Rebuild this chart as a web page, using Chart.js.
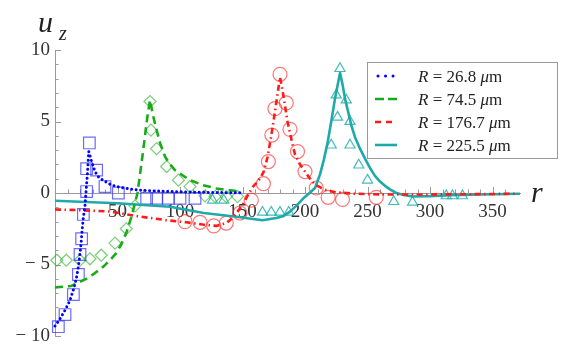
<!DOCTYPE html>
<html><head><meta charset="utf-8">
<script src="https://cdn.jsdelivr.net/npm/chart.js@4.4.1/dist/chart.umd.min.js"></script>
<style>html,body{margin:0;padding:0;background:#fff;}#c{display:block;}</style>
</head><body>
<canvas id="c" width="576" height="360"></canvas>
<script>
// ---- tick labels ----
const xTickLabels = [50, 100, 150, 200, 250, 300, 350];
const yTickLabels = [-10, -5, 0, 5, 10];
// ---- legend ----
const seriesRadii = ['26.8', '74.5', '176.7', '225.5'];

// ---- theory curves (r, u_z) ----
const blueCurveR = [0, 4, 8, 12, 15, 17, 18.7, 19.5, 20.8, 21.5, 22.7, 24, 25, 26, 27, 28, 29.3, 32, 35, 38.4, 45, 52, 60, 68, 76, 86, 97, 110, 125, 140, 150];
const blueCurveU = [-9.3, -8.8, -8.2, -7.5, -6.7, -6.0, -5.15, -4.6, -3.6, -2.8, -1.7, -0.9, 0.3, 1.4, 2.9, 2.6, 2.2, 1.5, 1.1, 0.9, 0.56, 0.4, 0.28, 0.2, 0.16, 0.12, 0.09, 0.06, 0.04, 0.02, 0.01];

const greenCurveR = [0, 13, 25, 32, 38.7, 44, 49, 53, 57, 61, 64, 66, 68, 70, 72, 74, 76, 78, 80, 84, 88, 92, 96, 100, 108, 118, 129, 140, 149];
const greenCurveU = [-6.6, -6.5, -6.0, -5.6, -5.15, -4.7, -4.2, -3.6, -2.8, -1.7, -0.7, 0.0, 1.3, 2.6, 4.0, 5.4, 6.5, 5.6, 4.85, 3.5, 2.55, 2.0, 1.6, 1.35, 0.9, 0.56, 0.32, 0.19, 0.1];

const redCurveR = [0, 20, 44, 68, 89, 105, 118, 129, 137, 142, 146, 150, 154, 158, 162, 164, 167, 170, 173, 176, 178.5, 180, 182, 184, 186, 188, 190, 192, 196, 200, 204, 208, 213, 217, 225, 240, 260, 300, 340, 370];
const redCurveU = [-1.15, -1.2, -1.3, -1.65, -1.9, -2.05, -2.2, -2.3, -2.1, -1.75, -1.3, -0.85, -0.2, 0.4, 0.8, 1.0, 1.5, 2.5, 4.0, 5.7, 7.2, 8.1, 7.2, 6.1, 5.0, 4.2, 3.4, 2.7, 2.0, 1.5, 1.0, 0.6, 0.35, 0.2, 0.05, -0.05, -0.1, -0.1, -0.08, -0.05];

const cyanCurveR = [0, 50, 92, 119, 145, 166, 177, 183, 188, 193, 198.7, 203, 208, 212, 215, 218, 221, 224, 226, 228, 230, 232, 235, 237, 240, 244, 248, 252, 256, 260, 264, 268, 273, 280, 286, 300, 316, 340, 372];
const cyanCurveU = [-0.54, -0.72, -0.96, -1.4, -1.66, -1.9, -1.75, -1.6, -1.3, -0.9, -0.37, -0.05, 0.35, 1.3, 2.3, 3.5, 5.0, 6.6, 7.5, 8.4, 7.6, 6.6, 5.5, 4.75, 3.9, 3.1, 2.4, 1.75, 1.2, 0.8, 0.5, 0.25, 0.0, -0.15, -0.25, -0.22, -0.15, -0.1, -0.05];

// ---- measured points (r, u_z) ----
const blueDataR = [2.7, 8, 14.7, 18.7, 20, 21.3, 22.7, 25.3, 25.3, 27.5, 33.3, 40, 50.7, 73.3, 81.3, 90.7, 100, 112];
const blueDataU = [-9.35, -8.5, -7.1, -5.7, -4.3, -3.2, -1.5, 0.1, 1.7, 3.5, 1.6, 0.45, 0.0, -0.37, -0.37, -0.37, -0.37, -0.37];

const greenDataR = [1.5, 9, 20, 28, 37, 48, 57, 64, 76, 76.8, 81.3, 89.3, 98.7, 108, 120, 128, 137, 146];
const greenDataU = [-4.7, -4.7, -4.7, -4.6, -4.35, -3.5, -2.5, -0.9, 6.4, 4.4, 3.1, 1.85, 0.9, 0.45, -0.2, -0.25, -0.25, -0.25];

const redDataR = [104, 116, 127, 137, 148, 157, 166.7, 170.7, 173.5, 176, 180, 185, 188, 194, 200, 209, 218.5, 230, 257];
const redDataU = [-2.0, -2.05, -2.3, -2.1, -1.4, -0.5, 0.65, 2.2, 4.05, 5.9, 8.3, 6.3, 4.45, 2.9, 1.5, 0.35, -0.3, -0.45, -0.3];

const cyanDataR = [126, 135, 166, 173, 180, 187, 221, 225, 226, 228, 233, 236, 236, 243, 250, 271, 286, 313, 318, 326];
const cyanDataU = [-0.5, -0.5, -1.35, -1.35, -1.35, -1.35, 3.35, 6.85, 5.3, 8.7, 6.5, 5.0, 3.35, 1.95, 0.9, -0.6, -0.65, -0.2, -0.2, -0.2];

const zip = (xs, ys) => xs.map((x, i) => ({x: x, y: ys[i]}));

const COLORS = {
  blue: '#0000ff', green: '#1aaa1a', red: '#ff1a1a', cyan: '#1fa9a9',
  blueM: 'rgba(50,50,255,0.72)', greenM: 'rgba(50,180,50,0.65)', redM: 'rgba(255,50,50,0.68)', cyanM: 'rgba(20,170,170,0.8)'
};
const lineStyles = [
  {color: COLORS.blue, width: 3, dash: [0.01, 4.5], cap: 'round'},
  {color: COLORS.green, width: 2.6, dash: [8, 5], cap: 'butt'},
  {color: COLORS.red, width: 2.6, dash: [6, 3.5, 1.5, 3.5], cap: 'butt'},
  {color: COLORS.cyan, width: 2.6, dash: [], cap: 'butt'}
];
const curves = [[blueCurveR, blueCurveU], [greenCurveR, greenCurveU], [redCurveR, redCurveU], [cyanCurveR, cyanCurveU]];

const datasets = [];
curves.forEach((c, i) => {
  const s = lineStyles[i];
  datasets.push({
    data: zip(c[0], c[1]), showLine: true, pointRadius: 0, borderColor: s.color,
    borderWidth: s.width, borderDash: s.dash, borderCapStyle: s.cap, borderJoinStyle: 'round',
    tension: 0, order: 0, clip: false, fill: false
  });
});
const markerSets = [
  [blueDataR, blueDataU, 'rect', 8.2, COLORS.blueM],
  [greenDataR, greenDataU, 'rectRot', 6, COLORS.greenM],
  [redDataR, redDataU, 'circle', 7, COLORS.redM],
  [cyanDataR, cyanDataU, 'triangle', 5.8, COLORS.cyanM]
];
markerSets.forEach(m => {
  datasets.push({
    data: zip(m[0], m[1]), showLine: false, pointStyle: m[2], pointRadius: m[3],
    pointBorderColor: m[4], pointBackgroundColor: 'rgba(0,0,0,0)', pointBorderWidth: 1.2,
    order: 1, clip: false
  });
});

const TICK_FONT = {family: 'Liberation Serif', size: 19};
const AXIS_COLOR = '#9a9a9a';

const axisTicks = {
  id: 'axisTicks',
  beforeDatasetsDraw(chart) {
    const {ctx, scales: {x, y}} = chart;
    const y0 = y.getPixelForValue(0);
    ctx.save();
    ctx.strokeStyle = AXIS_COLOR; ctx.lineWidth = 1;
    x.ticks.forEach(t => {
      const v = t.value;
      if (v === 0 || Math.abs(v % 10) > 1e-6) return;
      const px = Math.round(x.getPixelForValue(v)) + 0.5;
      const len = (v % 50 === 0) ? 6 : 3.5;
      ctx.beginPath(); ctx.moveTo(px, y0); ctx.lineTo(px, y0 - len); ctx.stroke();
    });
    y.ticks.forEach(t => {
      const v = t.value;
      if (Math.abs(v % 1) > 1e-6) return;
      const py = Math.round(y.getPixelForValue(v)) + 0.5;
      const len = (v % 5 === 0) ? 6 : 3.5;
      ctx.beginPath(); ctx.moveTo(x.left, py); ctx.lineTo(x.left + len, py); ctx.stroke();
    });
    ctx.restore();
  }
};

function drawRuns(ctx, runs, x, y) {
  runs.forEach(r => {
    ctx.font = r.font;
    ctx.fillText(r.t, x, y);
    x += ctx.measureText(r.t).width;
  });
}

const labelsAndLegend = {
  id: 'labelsAndLegend',
  afterDraw(chart) {
    const {ctx} = chart;
    ctx.save();
    ctx.fillStyle = '#222';
    ctx.textBaseline = 'alphabetic';
    ctx.textAlign = 'left';
    // axis titles
    ctx.font = 'italic 30px "Liberation Serif"';
    ctx.fillText('u', 38, 32);
    ctx.font = 'italic 20px "Liberation Serif"';
    ctx.fillText('z', 59, 40);
    ctx.font = 'italic 30px "Liberation Serif"';
    ctx.fillText('r', 531, 202);
    // legend box
    const bx = 367.5, by = 62.5, bw = 190, bh = 96;
    ctx.fillStyle = '#fff';
    ctx.fillRect(bx, by, bw, bh);
    ctx.strokeStyle = '#999'; ctx.lineWidth = 1;
    ctx.strokeRect(bx, by, bw, bh);
    const rowsY = [76, 99, 122, 145];
    const legendDash = [[0.01, 7.5], [9, 4], [6, 5], []];
    const legendStart = [378, 375, 375, 375];
    lineStyles.forEach((s, i) => {
      ctx.save();
      ctx.strokeStyle = s.color; ctx.lineWidth = s.width;
      ctx.setLineDash(legendDash[i]); ctx.lineCap = s.cap;
      ctx.beginPath(); ctx.moveTo(legendStart[i], rowsY[i]); ctx.lineTo(397, rowsY[i]); ctx.stroke();
      ctx.restore();
      ctx.fillStyle = '#222';
      const base = rowsY[i] + 6;
      drawRuns(ctx, [
        {t: 'R', font: 'italic 17px "Liberation Serif"'},
        {t: ' = ' + seriesRadii[i] + ' ', font: '17px "Liberation Serif"'},
        {t: '\u03bc', font: 'italic 17px "Liberation Serif"'},
        {t: 'm', font: '17px "Liberation Serif"'}
      ], 418, base);
    });
    ctx.restore();
  }
};

new Chart(document.getElementById('c'), {
  type: 'scatter',
  data: {datasets: datasets},
  options: {
    responsive: false, animation: false, devicePixelRatio: 1,
    layout: {padding: {top: 50, right: 56, bottom: 24, left: 0}},
    plugins: {legend: {display: false}, tooltip: {enabled: false}},
    scales: {
      x: {
        type: 'linear', min: 0, max: 372, position: {y: 0},
        afterFit: s => { s.height = 0; },
        grid: {display: true, drawOnChartArea: false, drawTicks: false},
        border: {display: true, color: AXIS_COLOR, width: 1},
        ticks: {
          stepSize: 10, autoSkip: false, maxRotation: 0, padding: 8,
          font: TICK_FONT, color: '#333',
          callback: v => xTickLabels.includes(v) ? String(v) : ''
        }
      },
      y: {
        type: 'linear', min: -10, max: 10, position: 'left',
        afterFit: s => { s.width = 55; },
        grid: {display: true, drawOnChartArea: false, drawTicks: false},
        border: {display: true, color: AXIS_COLOR, width: 1},
        ticks: {
          stepSize: 1, autoSkip: false, padding: 5,
          font: TICK_FONT, color: '#333',
          callback: v => yTickLabels.includes(v) ? (v < 0 ? '\u2212 ' + Math.abs(v) : String(v)) : ''
        }
      }
    }
  },
  plugins: [axisTicks, labelsAndLegend]
});
</script>
</body></html>
